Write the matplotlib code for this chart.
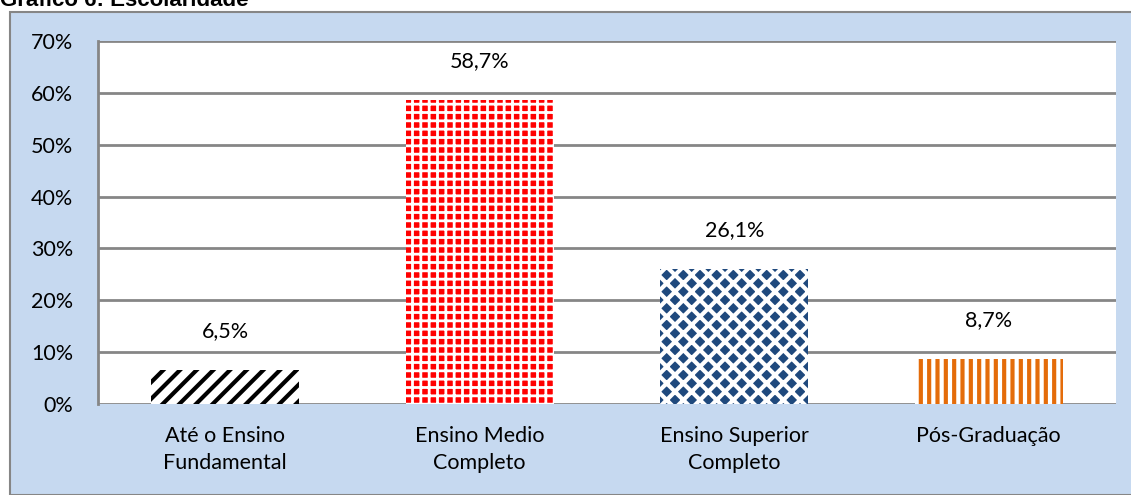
import matplotlib.pyplot as plt
from matplotlib.patches import Rectangle
from matplotlib.ticker import FuncFormatter

plt.rcParams['font.family'] = ['Lato', 'DejaVu Sans']

# dados do gráfico
categorias = ['Até o Ensino\nFundamental', 'Ensino Medio\nCompleto',
              'Ensino Superior\nCompleto', 'Pós-Graduação']
valores = [6.5, 58.7, 26.1, 8.7]
rotulos = ['6,5%', '58,7%', '26,1%', '8,7%']

fig = plt.figure(figsize=(11.31, 4.95), dpi=100)

# fundo azul claro com borda
bg = Rectangle((10 / 1131, 0), 1.2, 1 - 12 / 495, transform=fig.transFigure,
               facecolor='#C6D9F0', edgecolor='#868686', linewidth=1.5, zorder=-5)
fig.patches.append(bg)

fig.text(0.0, 1 - 6 / 495, 'Gráfico 6: Escolaridade', fontsize=16,
         fontweight='bold', family=['Liberation Sans', 'DejaVu Sans'],
         va='baseline', ha='left')

ax = fig.add_axes([98 / 1131, 1 - 404 / 495, 1018 / 1131, 363 / 495])
ax.set_facecolor('white')

x = range(len(categorias))
estilos = [
    dict(facecolor='white', edgecolor='black', hatch='//', lw_h=3.0),
    dict(facecolor='#FF0000', edgecolor='white', hatch='++', lw_h=2.0),
    dict(facecolor='#1F497D', edgecolor='white', hatch='xx', lw_h=3.0),
    dict(facecolor='white', edgecolor='#E46C0A', hatch='||', lw_h=3.0),
]
bars = ax.bar(x, valores, width=0.58, zorder=3, linewidth=0)
for b, st in zip(bars, estilos):
    b.set_facecolor(st['facecolor'])
    b.set_edgecolor(st['edgecolor'])
    b.set_hatch(st['hatch'])
    if hasattr(b, 'set_hatch_linewidth'):
        b.set_hatch_linewidth(st['lw_h'])

for xi, v, r in zip(x, valores, rotulos):
    ax.annotate(r, (xi, v), xytext=(0, 28), textcoords='offset points',
                ha='center', va='center', fontsize=15.5)

ax.set_xlim(-0.5, 3.5)
ax.set_ylim(0, 70)
ax.set_yticks(range(0, 71, 10))
ax.yaxis.set_major_formatter(FuncFormatter(lambda v, p: f'{v:.0f}%'))
ax.set_xticks(list(x))
ax.set_xticklabels(categorias, fontsize=15.5, linespacing=1.45)
ax.tick_params(axis='both', length=0, labelsize=15.5)
ax.tick_params(axis='x', pad=16)
ax.tick_params(axis='y', pad=18)
ax.grid(axis='y', color='#868686', linewidth=2, zorder=1)
for s in ['top', 'right', 'bottom']:
    ax.spines[s].set_visible(False)
ax.spines['left'].set_color('#868686')
ax.spines['left'].set_linewidth(2)

fig.savefig('out.png', dpi=100)
